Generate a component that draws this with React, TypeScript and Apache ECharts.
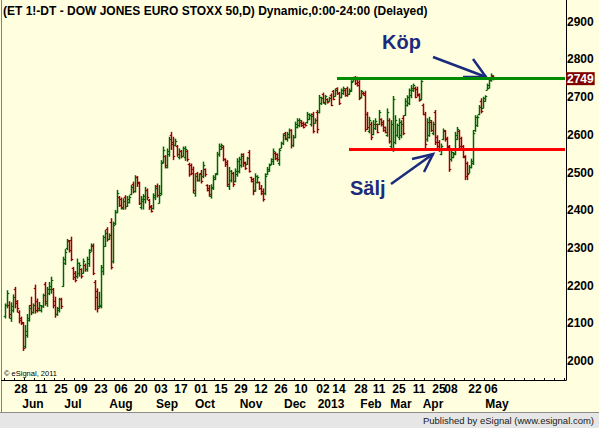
import React, { useEffect, useRef } from 'react';
import * as echarts from 'echarts';

// OHLC bars, [open, high, low, close], one per trading day (2 px per bar)
const barsMayJul: number[][] = [
  [2120, 2153, 2113, 2148], [2150, 2188, 2140, 2180], [2150, 2159, 2113, 2125], [2115, 2156, 2104, 2145],
  [2135, 2177, 2129, 2170], [2190, 2197, 2140, 2155], [2160, 2162, 2129, 2140], [2130, 2135, 2100, 2110],
  [2115, 2118, 2096, 2105], [2100, 2104, 2027, 2035], [2040, 2096, 2034, 2080], [2068, 2125, 2062, 2115],
  [2110, 2149, 2105, 2142], [2150, 2171, 2122, 2130], [2130, 2153, 2126, 2148], [2195, 2203, 2126, 2135],
  [2160, 2166, 2129, 2140], [2135, 2157, 2132, 2150], [2135, 2149, 2129, 2145], [2145, 2179, 2141, 2175],
  [2205, 2210, 2147, 2160], [2155, 2197, 2144, 2190], [2180, 2210, 2175, 2200], [2190, 2224, 2179, 2215],
  [2190, 2194, 2140, 2150], [2160, 2171, 2115, 2125], [2125, 2144, 2120, 2140], [2135, 2168, 2129, 2165],
  [2165, 2168, 2138, 2145], [2200, 2277, 2197, 2270], [2260, 2297, 2255, 2290], [2300, 2324, 2294, 2320],
  [2318, 2321, 2288, 2295], [2320, 2330, 2265, 2270], [2248, 2250, 2215, 2222], [2235, 2239, 2209, 2215],
  [2225, 2272, 2219, 2260], [2235, 2262, 2224, 2255], [2245, 2246, 2219, 2225], [2235, 2272, 2232, 2265],
  [2255, 2259, 2237, 2245], [2245, 2277, 2237, 2270], [2260, 2297, 2250, 2290], [2295, 2312, 2290, 2308],
  [2305, 2312, 2228, 2235], [2210, 2215, 2135, 2170], [2185, 2193, 2129, 2140], [2145, 2184, 2140, 2150],
  [2145, 2255, 2140, 2250], [2240, 2334, 2228, 2330],
];
const barsAugSep: number[][] = [
  [2305, 2348, 2303, 2340], [2350, 2355, 2317, 2325], [2325, 2339, 2321, 2335], [2370, 2379, 2243, 2250],
  [2265, 2370, 2259, 2362], [2365, 2401, 2361, 2395], [2395, 2454, 2392, 2445], [2436, 2438, 2409, 2415],
  [2430, 2434, 2402, 2410], [2405, 2432, 2401, 2425], [2435, 2440, 2402, 2412], [2412, 2438, 2409, 2430],
  [2422, 2440, 2418, 2435], [2442, 2467, 2440, 2462], [2470, 2476, 2445, 2452], [2450, 2493, 2447, 2488],
  [2488, 2491, 2462, 2475], [2472, 2476, 2414, 2420], [2410, 2438, 2402, 2430], [2425, 2443, 2402, 2438],
  [2430, 2462, 2418, 2455], [2455, 2458, 2427, 2435], [2428, 2430, 2401, 2410], [2412, 2414, 2394, 2398],
  [2405, 2445, 2402, 2440], [2435, 2467, 2427, 2460], [2465, 2471, 2434, 2440], [2420, 2467, 2418, 2440],
  [2445, 2533, 2440, 2525], [2528, 2569, 2524, 2560], [2545, 2546, 2511, 2520], [2515, 2564, 2511, 2558],
  [2550, 2595, 2542, 2590], [2600, 2608, 2560, 2575], [2580, 2595, 2533, 2545], [2572, 2590, 2570, 2585],
  [2570, 2573, 2542, 2550], [2540, 2564, 2535, 2558], [2558, 2560, 2538, 2545], [2545, 2569, 2542, 2565],
  [2540, 2570, 2531, 2562], [2558, 2560, 2529, 2535], [2524, 2526, 2489, 2495], [2520, 2524, 2493, 2500],
  [2510, 2516, 2445, 2455], [2445, 2498, 2436, 2490], [2500, 2502, 2476, 2480], [2480, 2498, 2476, 2495],
  [2500, 2507, 2471, 2478], [2490, 2529, 2485, 2520], [2510, 2511, 2489, 2495],
];
const barsOctDec: number[][] = [
  [2467, 2469, 2450, 2455], [2460, 2467, 2436, 2442], [2438, 2469, 2431, 2462], [2460, 2493, 2454, 2488],
  [2484, 2498, 2480, 2495], [2498, 2555, 2493, 2550], [2548, 2577, 2542, 2570], [2562, 2577, 2560, 2574],
  [2568, 2572, 2530, 2535], [2535, 2538, 2515, 2522], [2528, 2533, 2462, 2470], [2465, 2515, 2454, 2505],
  [2480, 2507, 2474, 2500], [2498, 2502, 2462, 2470], [2478, 2511, 2474, 2505], [2495, 2538, 2489, 2532],
  [2505, 2542, 2498, 2535], [2520, 2551, 2513, 2545], [2548, 2551, 2515, 2525], [2527, 2529, 2507, 2512],
  [2522, 2542, 2520, 2538], [2555, 2560, 2500, 2505], [2488, 2489, 2474, 2478], [2482, 2486, 2440, 2450],
  [2455, 2498, 2449, 2490], [2475, 2493, 2471, 2488], [2474, 2476, 2454, 2458], [2460, 2467, 2440, 2445],
  [2450, 2458, 2423, 2430], [2445, 2498, 2440, 2490], [2495, 2515, 2493, 2510], [2505, 2524, 2502, 2520],
  [2522, 2538, 2520, 2535], [2530, 2564, 2520, 2558], [2552, 2555, 2533, 2538], [2548, 2551, 2529, 2535],
  [2525, 2564, 2518, 2560], [2566, 2582, 2564, 2578], [2578, 2604, 2573, 2600], [2605, 2608, 2586, 2592],
  [2588, 2608, 2582, 2602], [2595, 2617, 2590, 2612], [2612, 2615, 2564, 2572], [2572, 2600, 2568, 2595],
  [2595, 2635, 2591, 2628], [2620, 2644, 2617, 2640], [2625, 2644, 2620, 2640], [2635, 2639, 2621, 2626],
  [2632, 2635, 2617, 2620], [2628, 2633, 2622, 2625],
];
const barsJanFeb: number[][] = [
  [2635, 2661, 2630, 2655], [2642, 2657, 2639, 2652], [2628, 2657, 2622, 2650], [2655, 2661, 2604, 2610],
  [2632, 2644, 2630, 2640], [2660, 2666, 2604, 2615], [2660, 2706, 2657, 2700], [2685, 2701, 2679, 2698],
  [2708, 2712, 2683, 2688], [2685, 2706, 2679, 2702], [2696, 2697, 2683, 2687], [2690, 2701, 2688, 2698],
  [2705, 2710, 2676, 2680], [2715, 2719, 2692, 2695], [2703, 2723, 2701, 2720], [2724, 2726, 2706, 2710],
  [2712, 2714, 2679, 2685], [2700, 2723, 2697, 2718], [2710, 2728, 2706, 2725], [2720, 2723, 2701, 2705],
  [2725, 2728, 2701, 2708], [2708, 2723, 2706, 2720], [2716, 2745, 2714, 2740], [2742, 2754, 2741, 2752],
  [2753, 2756, 2732, 2738], [2748, 2754, 2728, 2732], [2740, 2745, 2692, 2698], [2700, 2719, 2697, 2715],
  [2712, 2714, 2705, 2707], [2710, 2717, 2608, 2615], [2655, 2661, 2613, 2620], [2610, 2648, 2604, 2640],
  [2630, 2635, 2586, 2595], [2602, 2639, 2599, 2630], [2618, 2644, 2613, 2638], [2628, 2630, 2604, 2608],
  [2630, 2666, 2626, 2660], [2642, 2644, 2622, 2628], [2635, 2639, 2608, 2612], [2620, 2622, 2604, 2608],
  [2600, 2670, 2595, 2660], [2640, 2644, 2577, 2585], [2570, 2639, 2564, 2630], [2560, 2703, 2555, 2695],
];
const barsMarMay: number[][] = [
  [2580, 2652, 2575, 2640], [2600, 2630, 2595, 2625], [2595, 2644, 2586, 2635], [2600, 2639, 2591, 2630],
  [2645, 2652, 2599, 2605], [2652, 2697, 2650, 2690], [2680, 2705, 2675, 2700], [2685, 2723, 2679, 2718],
  [2705, 2732, 2697, 2725], [2718, 2736, 2714, 2732], [2725, 2728, 2697, 2700], [2722, 2728, 2701, 2705],
  [2708, 2710, 2688, 2692], [2695, 2745, 2692, 2742], [2680, 2683, 2652, 2655], [2655, 2661, 2564, 2575],
  [2590, 2644, 2582, 2635], [2600, 2648, 2595, 2640], [2635, 2639, 2608, 2612], [2605, 2635, 2599, 2630],
  [2660, 2666, 2573, 2580], [2595, 2599, 2564, 2570], [2582, 2586, 2555, 2560], [2550, 2577, 2546, 2570],
  [2590, 2617, 2586, 2612], [2610, 2613, 2582, 2588], [2592, 2595, 2564, 2570], [2568, 2573, 2502, 2510],
  [2535, 2560, 2529, 2555], [2540, 2555, 2538, 2552], [2550, 2608, 2546, 2600], [2590, 2621, 2586, 2615],
  [2610, 2613, 2564, 2570], [2592, 2595, 2560, 2565], [2570, 2573, 2538, 2545], [2542, 2546, 2480, 2490],
  [2525, 2529, 2480, 2495], [2500, 2520, 2498, 2515], [2515, 2537, 2511, 2532], [2525, 2613, 2520, 2605],
  [2612, 2652, 2608, 2648], [2625, 2652, 2621, 2648], [2655, 2679, 2652, 2675], [2690, 2697, 2657, 2662],
  [2672, 2701, 2670, 2698], [2690, 2705, 2688, 2703], [2720, 2736, 2719, 2732], [2725, 2750, 2723, 2745],
  [2745, 2763, 2741, 2758], [2757, 2758, 2745, 2749],
];

const categoryCount = 281;
const dayTicks: [number, string][] = [
  [8, '28'], [18, '11'], [28, '25'], [38, '09'], [48, '23'], [58, '06'], [68, '20'], [78, '03'],
  [88, '17'], [98, '01'], [108, '15'], [118, '29'], [128, '12'], [138, '26'], [148, '10'], [159, '02'],
  [167, '14'], [178, '28'], [187, '11'], [197, '25'], [207, '11'], [217, '25'], [223, '08'], [235, '22'],
  [243, '06'],
];
const monthTicks: [number, string][] = [
  [14, 'Jun'], [34, 'Jul'], [58, 'Aug'], [81, 'Sep'], [100, 'Oct'], [123, 'Nov'], [145, 'Dec'],
  [163, '2013'], [183, 'Feb'], [198, 'Mar'], [214, 'Apr'], [246, 'May'],
];
const priceTicks = [2000, 2100, 2200, 2300, 2400, 2500, 2600, 2700, 2800, 2900];
const buyLevel = 2749;
const buyStart = 166;
const sellLevel = 2561;
const sellStart = 172;
const lastPriceLabel = '2749';

const GREEN = '#006400';
const RED = '#990000';
const NAVY = '#1B2A7C';
const FONT = '"Liberation Sans", Arial, sans-serif';

export default function App() {
  const ref = useRef<HTMLDivElement>(null);
  useEffect(() => {
    document.body.style.margin = '0';
    const chart = echarts.init(ref.current!, null, { renderer: 'svg' });
    const bars = [...barsMayJul, ...barsAugSep, ...barsOctDec, ...barsJanFeb, ...barsMarMay];
    const data = bars.map((b, i) => [i, b[0], b[1], b[2], b[3]]);
    const categories = Array.from({ length: categoryCount }, (_, i) => String(i));
    const dayMap = new Map(dayTicks);
    const monthMap = new Map(monthTicks);
    const labelStyle = { color: '#000', fontWeight: 'bold' as const, fontSize: 12, fontFamily: FONT };

    const option: any = {
      animation: false,
      backgroundColor: '#FFFFE0',
      title: {
        text: '(ET 1!-DT - DOW JONES EURO STOXX 50,D) Dynamic,0:00-24:00 (Delayed)',
        left: 3,
        top: 5,
        padding: 0,
        textStyle: { ...labelStyle },
      },
      grid: { left: 4, right: 33, top: 0, bottom: 48, containLabel: false },
      xAxis: [
        {
          type: 'category',
          data: categories,
          boundaryGap: true,
          axisLine: { show: true, lineStyle: { color: '#000', width: 1 } },
          axisTick: { show: true, inside: true, length: 2, interval: 4, lineStyle: { color: '#000' } },
          axisLabel: {
            ...labelStyle,
            margin: 3,
            interval: (i: number) => dayMap.has(i),
            formatter: (_v: string, i: number) => dayMap.get(i) ?? '',
          },
          splitLine: { show: false },
        },
        {
          type: 'category',
          data: categories,
          position: 'bottom',
          offset: 16,
          boundaryGap: true,
          axisLine: { show: false },
          axisTick: { show: false },
          axisLabel: {
            ...labelStyle,
            margin: 2,
            interval: (i: number) => monthMap.has(i),
            formatter: (_v: string, i: number) => monthMap.get(i) ?? '',
          },
          splitLine: { show: false },
        },
      ],
      yAxis: {
        type: 'value',
        position: 'right',
        min: 1950,
        max: 2957.6,
        interval: 50,
        splitLine: { show: false },
        axisLine: { show: true, lineStyle: { color: '#000', width: 1 } },
        axisTick: { show: false },
        axisLabel: {
          ...labelStyle,
          margin: 1,
          formatter: (v: number) => (priceTicks.includes(v) ? String(v) : ''),
        },
      },
      series: [
        {
          type: 'custom',
          xAxisIndex: 0,
          data,
          encode: { x: 0, y: [1, 2, 3, 4] },
          renderItem: (_p: any, api: any) => {
            const i = api.value(0);
            const op = api.value(1);
            const cl = api.value(4);
            const o = api.coord([i, op]);
            const h = api.coord([i, api.value(2)]);
            const l = api.coord([i, api.value(3)]);
            const c = api.coord([i, cl]);
            const x = Math.round(o[0]) + 0.5;
            const color = cl >= op ? GREEN : RED;
            const st = { stroke: color, lineWidth: 1.5 };
            const oy = Math.round(o[1]) + 0.5;
            const cy = Math.round(c[1]) + 0.5;
            return {
              type: 'group',
              children: [
                { type: 'line', shape: { x1: x, y1: h[1], x2: x, y2: l[1] }, style: st },
                { type: 'line', shape: { x1: x - 1.8, y1: oy, x2: x, y2: oy }, style: { stroke: color, lineWidth: 1.2 } },
                { type: 'line', shape: { x1: x, y1: cy, x2: x + 1.8, y2: cy }, style: { stroke: color, lineWidth: 1.2 } },
              ],
            };
          },
        },
        {
          type: 'line',
          data: [],
          markLine: {
            silent: true,
            symbol: ['none', 'none'],
            lineStyle: { color: '#008C00', width: 3, type: 'solid' },
            label: {
              show: true,
              position: 'end',
              distance: 1,
              formatter: lastPriceLabel,
              color: '#fff',
              fontWeight: 'bold',
              fontSize: 12,
              fontFamily: FONT,
              backgroundColor: '#800000',
              padding: [1, 1, 0, 1],
            },
            data: [[{ coord: [buyStart, buyLevel] }, { coord: [categoryCount - 1, buyLevel] }]],
          },
        },
        {
          type: 'line',
          data: [],
          markLine: {
            silent: true,
            symbol: ['none', 'none'],
            lineStyle: { color: '#FF0000', width: 3, type: 'solid' },
            label: { show: false },
            data: [[{ coord: [sellStart, sellLevel] }, { coord: [categoryCount - 1, sellLevel] }]],
          },
        },
      ],
      graphic: [
        { type: 'line', shape: { x1: 1.5, y1: 0, x2: 1.5, y2: 412 }, style: { stroke: '#808080', lineWidth: 1 } },
        { type: 'line', shape: { x1: 1, y1: 380.5, x2: 5, y2: 380.5 }, style: { stroke: '#000', lineWidth: 1 } },
        { type: 'rect', shape: { x: 0, y: 412, width: 599, height: 16 }, style: { fill: '#E6E6E6', stroke: 'none' } },
        { type: 'line', shape: { x1: 0, y1: 412.5, x2: 599, y2: 412.5 }, style: { stroke: '#8C8C8C', lineWidth: 1 } },
        {
          type: 'text', right: 5, top: 415,
          style: { text: 'Published by eSignal (www.esignal.com)', fill: '#1a1a1a', fontSize: 9.5, fontFamily: FONT },
        },
        {
          type: 'text', left: 4, top: 369,
          style: { text: '© eSignal, 2011', fill: '#000', fontSize: 7.5, fontFamily: FONT },
        },
        {
          type: 'text', left: 382, top: 32,
          style: { text: 'Köp', fill: NAVY, fontSize: 20, fontWeight: 'bold', fontFamily: FONT },
        },
        {
          type: 'text', left: 350, top: 178,
          style: { text: 'Sälj', fill: NAVY, fontSize: 20, fontWeight: 'bold', fontFamily: FONT },
        },
        { type: 'line', shape: { x1: 433, y1: 57, x2: 486, y2: 77 }, style: { stroke: NAVY, lineWidth: 2.5 } },
        {
          type: 'polyline',
          shape: { points: [[463, 77], [486, 77], [473, 59]] },
          style: { stroke: NAVY, lineWidth: 2.5, fill: 'none' },
        },
        { type: 'line', shape: { x1: 391, y1: 184, x2: 433, y2: 154 }, style: { stroke: NAVY, lineWidth: 2.5 } },
        {
          type: 'polyline',
          shape: { points: [[412, 159], [433, 154], [424, 172]] },
          style: { stroke: NAVY, lineWidth: 2.5, fill: 'none' },
        },
      ],
    };
    chart.setOption(option);
    return () => chart.dispose();
  }, []);
  return <div ref={ref} style={{ width: 599, height: 428 }} />;
}
